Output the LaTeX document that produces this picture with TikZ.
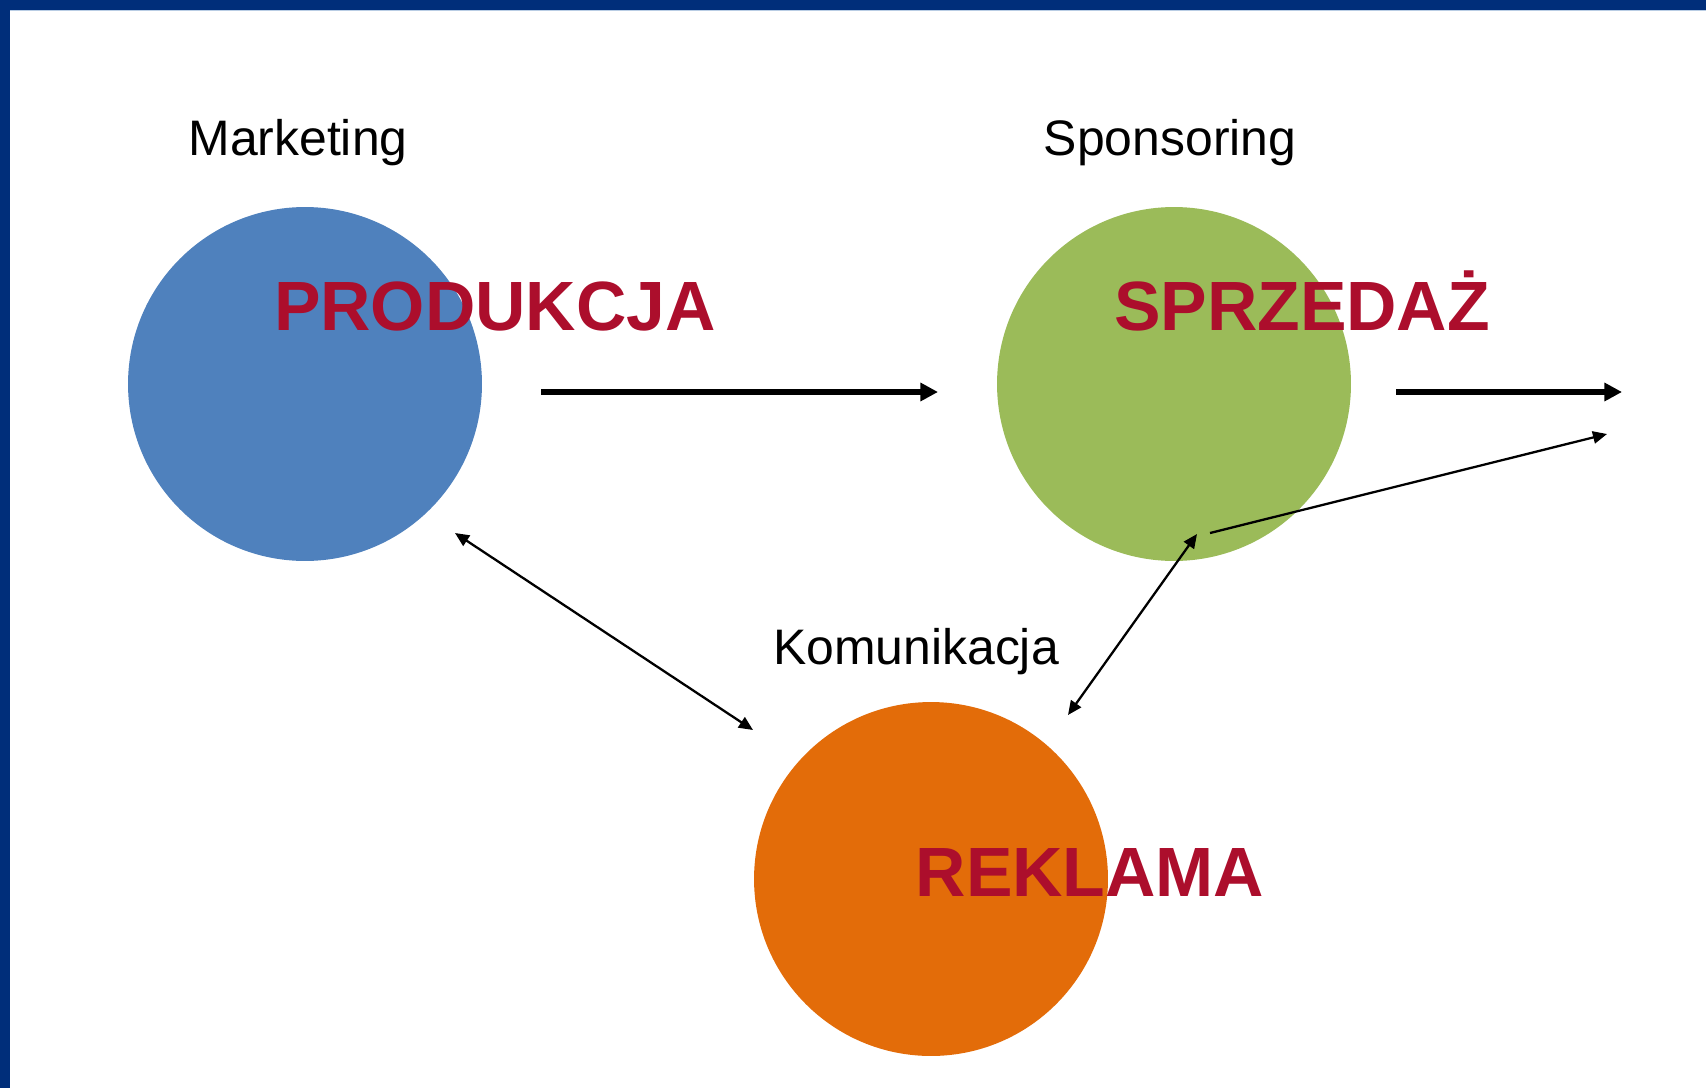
\documentclass[tikz,border=0pt]{standalone}
\usepackage{fontspec}
\setmainfont{Liberation Sans}
\usetikzlibrary{arrows.meta}
\definecolor{framebl}{RGB}{0,46,122}
\definecolor{cblue}{RGB}{79,129,189}
\definecolor{cgreen}{RGB}{155,187,89}
\definecolor{corange}{RGB}{227,108,9}
\definecolor{tred}{RGB}{172,14,44}
\tikzset{
  bubble/.style={circle, inner sep=0pt, minimum size=7.08cm},
  smalllbl/.style={anchor=base, font=\fontsize{28.4pt}{34pt}\selectfont, text=black, inner sep=0pt},
  biglbl/.style={anchor=base, font=\fontsize{39.7pt}{46pt}\selectfont\bfseries, text=tred, inner sep=0pt},
  thickarrow/.style={line width=3pt, -{Triangle[length=10pt,width=10pt]}},
  thinarrow/.style={line width=1.3pt, -{Triangle[length=8pt,width=7pt]}},
  dblarrow/.style={line width=1.3pt, {Triangle[length=8pt,width=7pt]}-{Triangle[length=8pt,width=7pt]}}
}
\begin{document}
\begin{tikzpicture}[x=0.02cm,y=-0.02cm]
\useasboundingbox (0,0) rectangle (1706,1088);
\fill[white] (0,0) rectangle (1706,1088);
\fill[framebl] (0,0) rectangle (1706,10);
\fill[framebl] (0,0) rectangle (10,1088);
\draw[cblue!40, line width=0.6pt] (10,10.5) -- (1706,10.5);
% circles
\node[bubble, fill=cblue] (prod) at (305,384) {};
\node[bubble, fill=cgreen] (sprz) at (1174,384) {};
\node[bubble, fill=corange] (rekl) at (931,879) {};
% labels
\node[smalllbl] (lmark) at (298,155) {Marketing};
\node[smalllbl] (lspon) at (1170,155) {Sponsoring};
\node[smalllbl] (lkom) at (916,664) {Komunikacja};
\node[biglbl] (tprod) at (495,330) {PRODUKCJA};
\node[biglbl] (tsprz) at (1302,330) {SPRZEDAŻ};
\node[biglbl] (trekl) at (1090,896) {REKLAMA};
% connector end points
\coordinate (p1s) at (541,392);
\coordinate (p1e) at (938,392);
\coordinate (p2s) at (1396,392);
\coordinate (p2e) at (1622,392);
\coordinate (p3s) at (1210,533);
\coordinate (p3e) at (1607,434);
\coordinate (p4s) at (455,533);
\coordinate (p4e) at (753,730);
\coordinate (p5s) at (1197,534);
\coordinate (p5e) at (1068,715);
% connectors
\draw[thickarrow] (p1s) -- (p1e);
\draw[thickarrow] (p2s) -- (p2e);
\draw[thinarrow] (p3s) -- (p3e);
\draw[dblarrow] (p4s) -- (p4e);
\draw[dblarrow] (p5s) -- (p5e);
\end{tikzpicture}
\end{document}
